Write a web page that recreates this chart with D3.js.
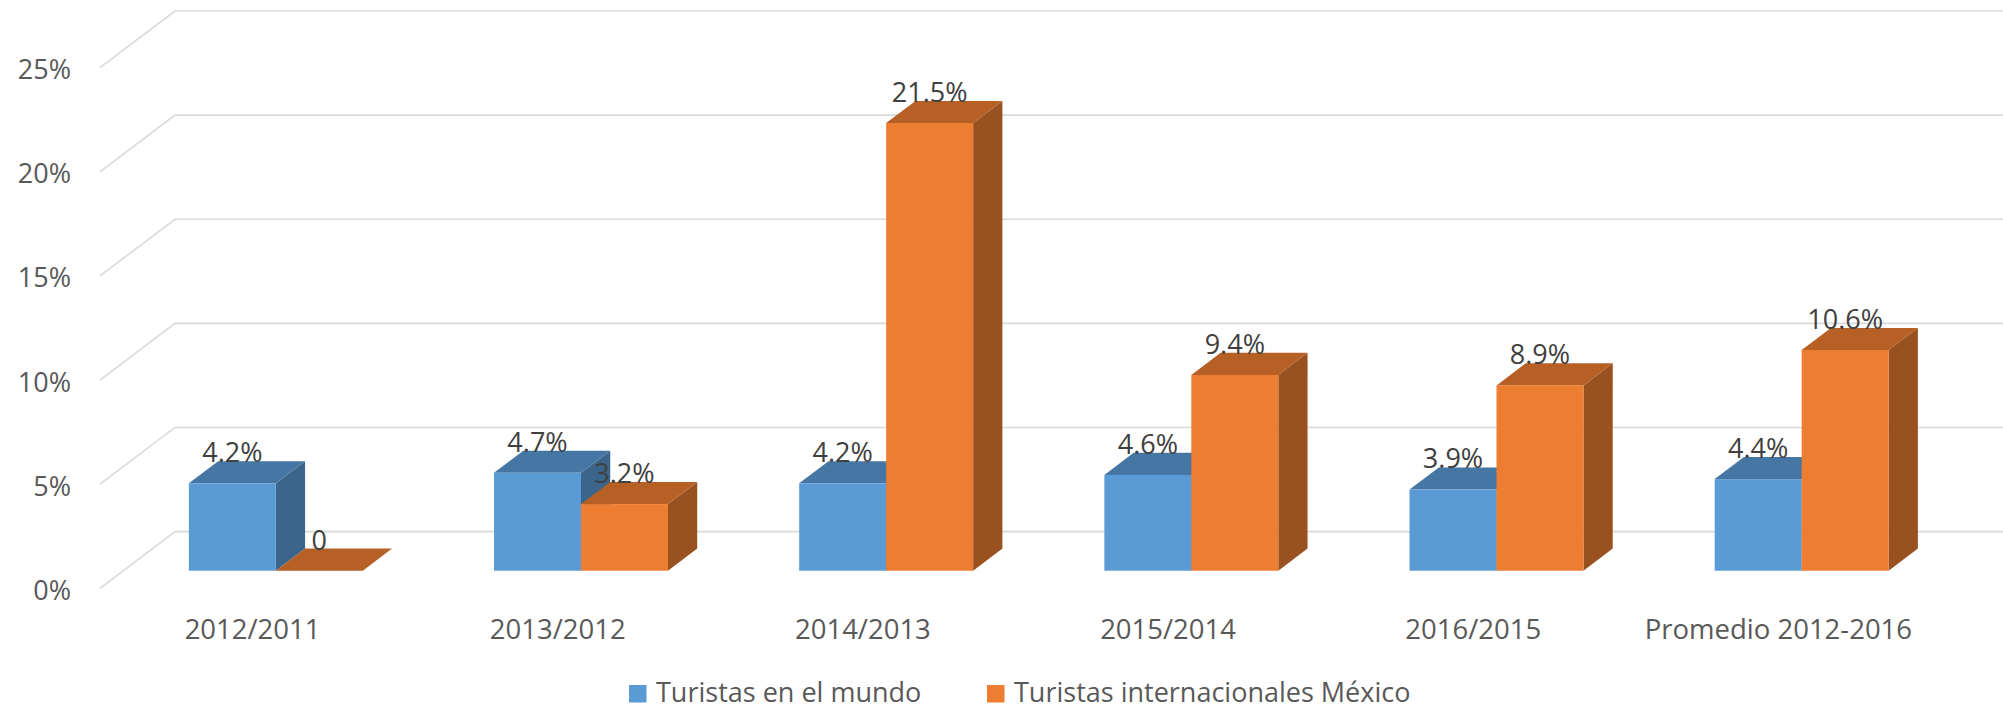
<!DOCTYPE html>
<html>
<head>
<meta charset="utf-8">
<script src="https://cdn.jsdelivr.net/npm/d3@7"></script>
<style>
  body { margin: 0; background: #fff; }
  text { font-family: "Open Sans", "Noto Sans", sans-serif; }
</style>
</head>
<body>
<svg id="chart" width="2003" height="709"></svg>
<script>
// data
const categories = ["2012/2011", "2013/2012", "2014/2013", "2015/2014", "2016/2015", "Promedio 2012-2016"]
const seriesNames = ["Turistas en el mundo", "Turistas internacionales México"]
const mundo = [4.2, 4.7, 4.2, 4.6, 3.9, 4.4]
const mexico = [0, 3.2, 21.5, 9.4, 8.9, 10.6]
const mundoLabels = ["4.2%", "4.7%", "4.2%", "4.6%", "3.9%", "4.4%"]
const mexicoLabels = ["0", "3.2%", "21.5%", "9.4%", "8.9%", "10.6%"]
const yTicks = [0, 5, 10, 15, 20, 25]

const colors = [
  {front: "#5B9BD5", top: "#4677A4", side: "#3B658B"},
  {front: "#ED7D31", top: "#B66026", side: "#9A5120"}
]

const svg = d3.select('#chart')

// 3d box: front plane + depth vector
const depth = {dx: 75, dy: -56.7}
const frontOff = 0.31   // bar front face, fraction of the floor depth
const barDepth = 0.39

const x = d3.scaleBand().domain(categories).range([100, 1931])
const xs = d3.scaleBand().domain([0, 1]).range([x.bandwidth() * 0.215, x.bandwidth() * 0.785])
const y = d3.scaleLinear().domain([0, 25]).range([588.3, 67.7])

// walls: side diagonals + back lines
const grid = svg.append('g')
yTicks.forEach(t => {
  const fy = y(t)
  grid.append('path')
    .attr('d', `M100,${fy}L${100 + depth.dx},${fy + depth.dy}H2010`)
    .attr('fill', 'none')
    .attr('stroke', '#D9D9D9')
    .attr('stroke-width', 1.6)
})

svg.append('g').selectAll('text')
  .data(yTicks)
  .enter()
  .append('text')
  .attr('x', 71)
  .attr('y', d => y(d) + 1)
  .attr('text-anchor', 'end')
  .attr('dominant-baseline', 'central')
  .attr('font-size', 27)
  .attr('fill', '#595959')
  .text(d => d + '%')

// bars, left to right so front faces cover neighbour side faces
const bars = svg.append('g')
const labels = []
categories.forEach((c, i) => {
  [mundo[i], mexico[i]].forEach((v, s) => {
    const ox = frontOff * depth.dx, oy = frontOff * depth.dy
    const bx = x(c) + xs(s) + ox
    const w = xs.bandwidth()
    const y0 = y(0) + oy, y1 = y(v) + oy
    const ddx = barDepth * depth.dx, ddy = barDepth * depth.dy
    const col = colors[s]
    if (v > 0) {
      bars.append('path')
        .attr('d', `M${bx + w},${y1}L${bx + w + ddx},${y1 + ddy}L${bx + w + ddx},${y0 + ddy}L${bx + w},${y0}Z`)
        .attr('fill', col.side)
    }
    bars.append('path')
      .attr('d', `M${bx},${y1}L${bx + ddx},${y1 + ddy}L${bx + w + ddx},${y1 + ddy}L${bx + w},${y1}Z`)
      .attr('fill', col.top)
    if (v > 0) {
      bars.append('rect')
        .attr('x', bx).attr('y', y1)
        .attr('width', w).attr('height', y0 - y1)
        .attr('fill', col.front)
    }
    labels.push({x: bx + w / 2, y: y1 + ddy + 1, t: s === 0 ? mundoLabels[i] : mexicoLabels[i]})
  })
})

svg.append('g').selectAll('text')
  .data(labels)
  .enter()
  .append('text')
  .attr('x', d => d.x)
  .attr('y', d => d.y)
  .attr('text-anchor', 'middle')
  .attr('font-size', 27)
  .attr('fill', '#404040')
  .text(d => d.t)

// category labels
svg.append('g').selectAll('text')
  .data(categories)
  .enter()
  .append('text')
  .attr('x', d => x(d) + x.bandwidth() / 2)
  .attr('y', 638.5)
  .attr('text-anchor', 'middle')
  .attr('font-size', 27.5)
  .attr('fill', '#595959')
  .text(d => d)

// legend
const legX = [629, 987]
const legend = svg.append('g')
seriesNames.forEach((n, s) => {
  legend.append('rect')
    .attr('x', legX[s]).attr('y', 685)
    .attr('width', 17.5).attr('height', 17.5)
    .attr('fill', colors[s].front)
  legend.append('text')
    .attr('x', legX[s] + 27)
    .attr('y', 702)
    .attr('font-size', 27)
    .attr('fill', '#595959')
    .text(n)
})
</script>
</body>
</html>
